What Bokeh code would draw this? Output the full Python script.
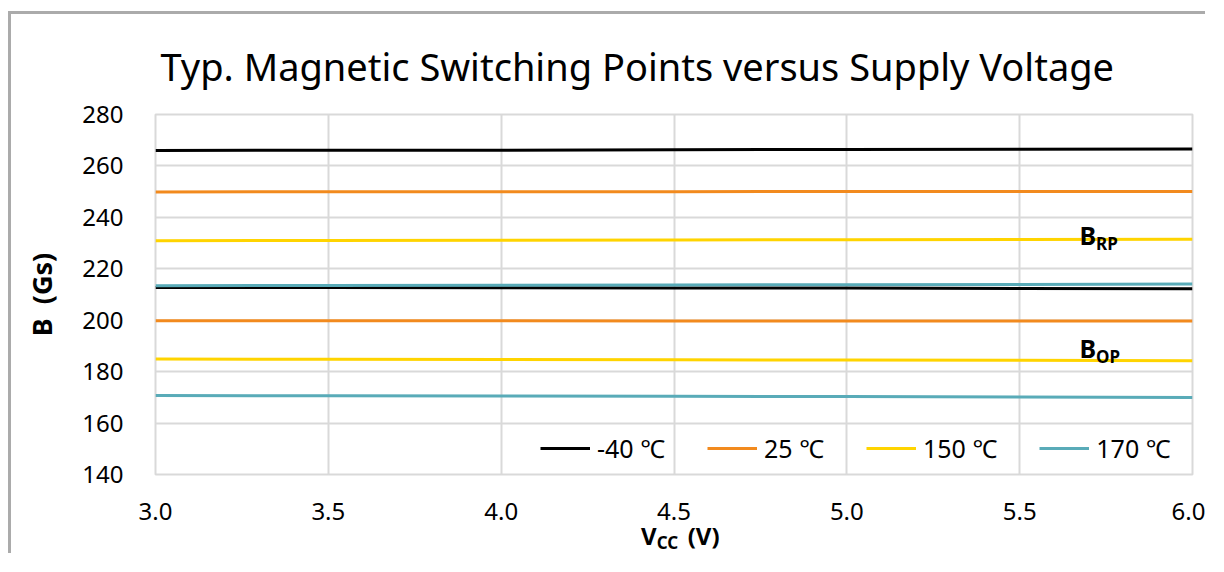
from bokeh.plotting import figure
from bokeh.models import Label, Legend, LegendItem, FixedTicker, Range1d, NumeralTickFormatter, LinearAxis
from bokeh.embed import file_html
from bokeh.resources import INLINE

# ---- data ----
vcc = [3.0, 3.5, 4.0, 4.5, 5.0, 5.5, 6.0]
temps = ["-40 ℃", "25 ℃", "150 ℃", "170 ℃"]
brp_m40 = [266.0, 266.1, 266.1, 266.3, 266.4, 266.5, 266.6]
bop_m40 = [212.7, 212.7, 212.6, 212.5, 212.5, 212.3, 212.2]
brp_25 = [249.9, 250.0, 250.0, 250.0, 250.1, 250.1, 250.1]
bop_25 = [199.8, 199.8, 199.8, 199.7, 199.7, 199.7, 199.7]
brp_150 = [230.9, 231.0, 231.1, 231.2, 231.3, 231.4, 231.5]
bop_150 = [184.9, 184.8, 184.7, 184.6, 184.5, 184.4, 184.2]
brp_170 = [213.4, 213.5, 213.6, 213.7, 213.8, 213.9, 214.1]
bop_170 = [170.7, 170.6, 170.5, 170.4, 170.3, 170.1, 169.9]
x_ticks = [3.0, 3.5, 4.0, 4.5, 5.0, 5.5, 6.0]
y_ticks = [140, 160, 180, 200, 220, 240, 260, 280]

colors = ["#000000", "#F28A1E", "#FFD400", "#59ABB8"]
series = [(brp_m40, bop_m40), (brp_25, bop_25), (brp_150, bop_150), (brp_170, bop_170)]

FONT = "Noto Sans"
NB = "\u00a0"

p = figure(width=1197, height=542, output_backend="svg", toolbar_location=None,
           x_range=Range1d(3.0, 6.0), y_range=Range1d(140, 280),
           min_border_left=144, min_border_right=16, min_border_top=99, min_border_bottom=82,
           title="Typ. Magnetic Switching Points versus Supply Voltage")
p.styles = {"border-left": "3px solid #ababab", "border-top": "3px solid #ababab",
            "margin-left": "8px", "margin-top": "11px"}

p.title.text_font = FONT
p.title.text_font_size = "38px"
p.title.text_font_style = "normal"
p.title.text_color = "#000000"
p.title.align = "left"
p.title.offset = 5
p.title.standoff = 46

p.outline_line_color = "#d9d9d9"
p.outline_line_width = 2
p.background_fill_color = "white"
p.border_fill_color = "white"

for ax in (p.xaxis[0], p.yaxis[0]):
    ax.axis_line_color = None
    ax.major_tick_line_color = None
    ax.minor_tick_line_color = None
    ax.major_tick_out = 0
    ax.major_tick_in = 0
    ax.major_label_text_font = FONT
    ax.major_label_text_font_size = "24px"
    ax.major_label_text_color = "#000000"

p.xaxis.ticker = FixedTicker(ticks=x_ticks)
p.xaxis.formatter = NumeralTickFormatter(format="0.0")
p.xaxis.major_label_standoff = 28
p.yaxis.ticker = FixedTicker(ticks=y_ticks)
p.yaxis.major_label_standoff = 32

# x-axis title: "V" ... "(V)" on the main axis, subscript "CC" on a label-only axis below
p.xaxis.axis_label = NB * 2 + "V" + NB * 5 + "(V)"
p.xaxis.axis_label_text_font = FONT
p.xaxis.axis_label_text_font_size = "24px"
p.xaxis.axis_label_text_font_style = "bold"
p.xaxis.axis_label_text_color = "#000000"
p.xaxis.axis_label_standoff = -4

sub_ax = LinearAxis(ticker=FixedTicker(ticks=[]), axis_label="CC" + NB * 3,
                    axis_line_color=None, major_tick_line_color=None, minor_tick_line_color=None,
                    major_tick_out=0, major_tick_in=0, major_label_text_font_size="1px",
                    major_label_standoff=0,
                    axis_label_text_font=FONT, axis_label_text_font_size="17px",
                    axis_label_text_font_style="bold", axis_label_text_color="#000000",
                    axis_label_standoff=-24)
p.add_layout(sub_ax, "below")

p.yaxis.axis_label = "B" + NB * 2 + "(Gs)"
p.yaxis.axis_label_text_font = FONT
p.yaxis.axis_label_text_font_size = "27px"
p.yaxis.axis_label_text_font_style = "bold"
p.yaxis.axis_label_text_color = "#000000"
p.yaxis.axis_label_standoff = 19

p.xgrid.grid_line_color = "#d9d9d9"
p.ygrid.grid_line_color = "#d9d9d9"
p.xgrid.grid_line_width = 2
p.ygrid.grid_line_width = 2

items = []
for name, col, (brp, bop) in zip(temps, colors, series):
    r1 = p.line(vcc, brp, line_color=col, line_width=3)
    p.line(vcc, bop, line_color=col, line_width=3)
    items.append(LegendItem(label=name, renderers=[r1]))

legend = Legend(items=items, orientation="horizontal", location=(385, 9),
                padding=0, margin=0, spacing=42, glyph_width=50, glyph_height=22,
                label_standoff=7, label_text_font=FONT, label_text_font_size="25px",
                label_text_color="#000000",
                background_fill_alpha=0, border_line_alpha=0)
p.add_layout(legend)

def lab(x, y, text, size, bold=True):
    p.add_layout(Label(x=x, y=y, text=text, text_font=FONT, text_font_size=size,
                       text_font_style="bold" if bold else "normal",
                       text_color="#000000", text_align="left", text_baseline="middle"))

# B_RP / B_OP annotations
lab(5.673, 233.3, "B", "25px")
lab(5.721, 229.9, "RP", "17px")
lab(5.673, 189.2, "B", "25px")
lab(5.721, 186.0, "OP", "17px")

open("out.html", "w").write(file_html(p, INLINE))
